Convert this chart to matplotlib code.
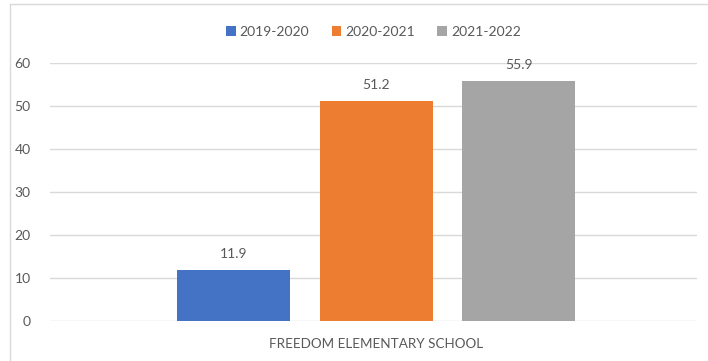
import matplotlib.pyplot as plt
from matplotlib.patches import Rectangle

# data
school = 'FREEDOM ELEMENTARY SCHOOL'
years = ['2019-2020', '2020-2021', '2021-2022']
values = [11.9, 51.2, 55.9]
colors = ['#4472C4', '#ED7D31', '#A5A5A5']

plt.rcParams['font.family'] = ['Lato', 'DejaVu Sans']
txt = '#595959'

fig = plt.figure(figsize=(7.08, 3.61), dpi=100)
ax = fig.add_axes([0.0706, 0.1108, 0.9139, 0.7147])

# chart border
fig.patches.append(Rectangle((10 / 708, -0.05), 1.1, 1 - 4 / 361 + 0.05,
                             transform=fig.transFigure, fill=False,
                             edgecolor='#d9d9d9', lw=1))

offsets = [-1, 0, 1]
for off, yr, v, c in zip(offsets, years, values, colors):
    ax.bar(off, v, width=0.793, color=c, label=yr, zorder=3)
    ax.text(off, v + 2.2, f'{v}', ha='center', va='bottom',
            fontsize=10, color=txt)

ax.set_xlim(-2.29, 2.25)
ax.set_ylim(0, 60)
ax.set_yticks(range(0, 61, 10))
ax.set_xticks([0])
ax.set_xticklabels([school])
ax.tick_params(length=0, labelsize=10, colors=txt)
ax.tick_params(axis='x', pad=12, labelsize=9.7)
ax.tick_params(axis='y', pad=14)
ax.grid(axis='y', color='#d9d9d9', lw=1, zorder=0)
for s in ax.spines.values():
    s.set_visible(False)

ax.legend(loc='lower center', bbox_to_anchor=(0.5, 1.049), ncol=3,
          frameon=False, fontsize=10, handlelength=0.7, handleheight=0.7,
          columnspacing=1.6, handletextpad=0.3, labelcolor=txt)

fig.savefig('out.png', dpi=100)
